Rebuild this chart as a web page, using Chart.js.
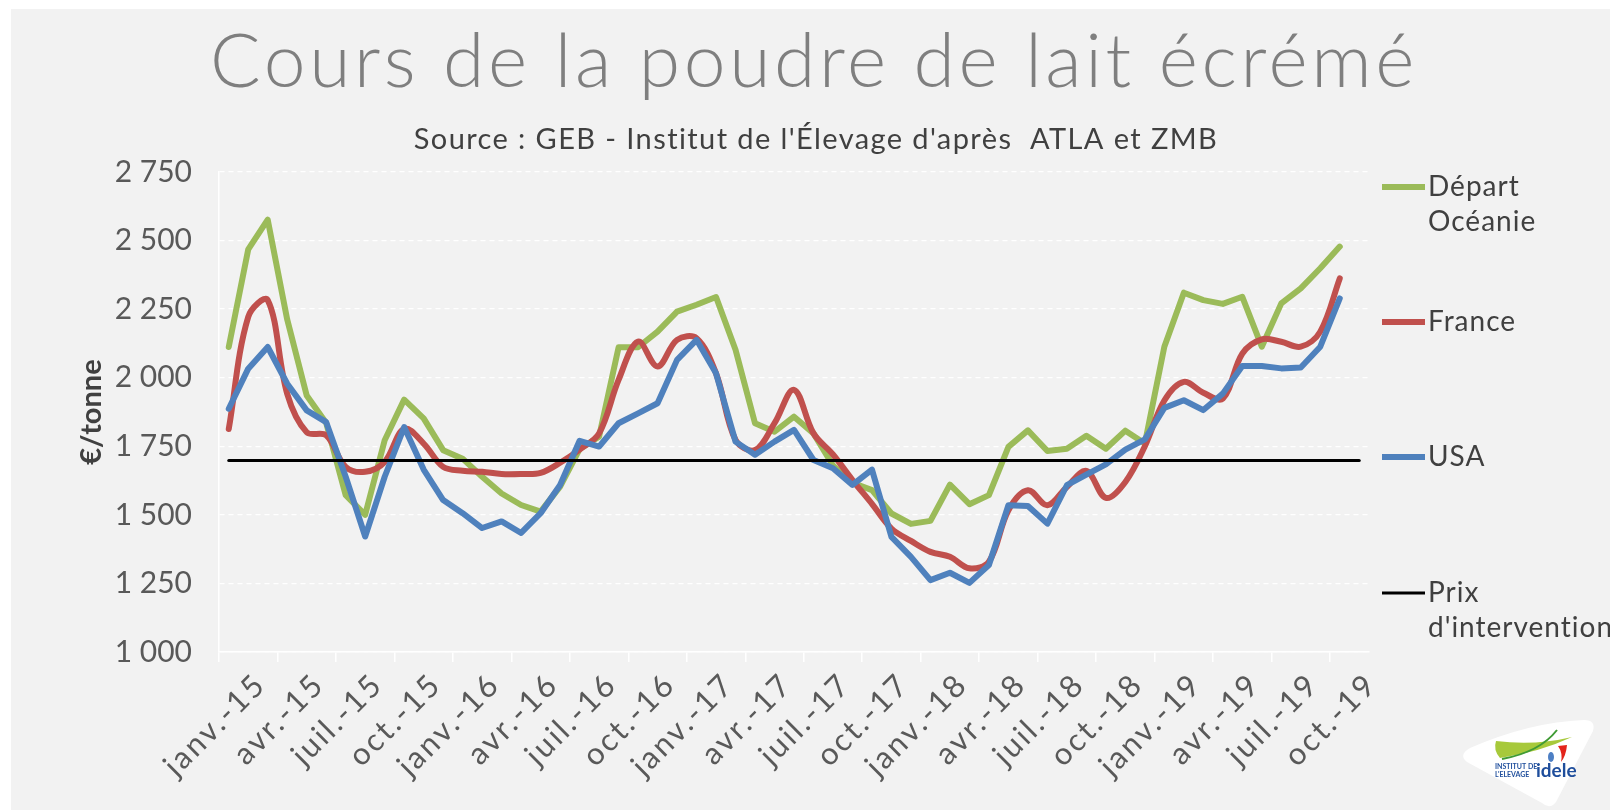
<!DOCTYPE html>
<html lang="fr">
<head>
<meta charset="utf-8">
<title>Cours de la poudre de lait écrémé</title>
<script src="https://cdn.jsdelivr.net/npm/chart.js"></script>
<style>
  html, body { margin: 0; padding: 0; background: #fff; }
  #wrap { width: 1610px; height: 810px; }
</style>
</head>
<body>
<div id="wrap"><canvas id="chart" width="1610" height="810"></canvas></div>
<script>
// Données (€/tonne), mensuelles de janv.-15 à nov.-19
const mois = [
  'janv.-15', 'févr.-15', 'mars-15', 'avr.-15', 'mai-15', 'juin-15', 'juil.-15', 'août-15', 'sept.-15', 'oct.-15', 'nov.-15', 'déc.-15',
  'janv.-16', 'févr.-16', 'mars-16', 'avr.-16', 'mai-16', 'juin-16', 'juil.-16', 'août-16', 'sept.-16', 'oct.-16', 'nov.-16', 'déc.-16',
  'janv.-17', 'févr.-17', 'mars-17', 'avr.-17', 'mai-17', 'juin-17', 'juil.-17', 'août-17', 'sept.-17', 'oct.-17', 'nov.-17', 'déc.-17',
  'janv.-18', 'févr.-18', 'mars-18', 'avr.-18', 'mai-18', 'juin-18', 'juil.-18', 'août-18', 'sept.-18', 'oct.-18', 'nov.-18', 'déc.-18',
  'janv.-19', 'févr.-19', 'mars-19', 'avr.-19', 'mai-19', 'juin-19', 'juil.-19', 'août-19', 'sept.-19', 'oct.-19', 'nov.-19'
];

const departOceanie = [
  2112, 2468, 2576, 2212, 1935, 1835, 1572, 1500, 1772, 1920, 1852, 1736,
  1705, 1639, 1578, 1536, 1512, 1603, 1740, 1785, 2111, 2111, 2168, 2241,
  2266, 2294, 2102, 1834, 1803, 1858, 1797, 1680, 1617, 1590, 1505, 1467,
  1478, 1610, 1539, 1572, 1748, 1808, 1733, 1741, 1788, 1741, 1807, 1760,
  2113, 2310, 2283, 2269, 2295, 2113, 2271, 2326, 2399, 2478, null
];

const france = [
  1813, 2222, 2283, 1941, 1801, 1790, 1675, 1657, 1693, 1814, 1760, 1675,
  1661, 1657, 1649, 1649, 1653, 1690, 1738, 1797, 1992, 2132, 2041, 2138,
  2144, 2016, 1773, 1736, 1834, 1956, 1797, 1720, 1627, 1540, 1450, 1405,
  1365, 1347, 1305, 1329, 1517, 1590, 1535, 1602, 1660, 1562, 1620, 1750,
  1917, 1985, 1945, 1924, 2088, 2140, 2131, 2113, 2168, 2362, null
];

const usa = [
  1887, 2033, 2112, 1978, 1881, 1838, 1639, 1421, 1639, 1820, 1665, 1554,
  1506, 1452, 1476, 1434, 1506, 1609, 1770, 1749, 1834, 1870, 1907, 2065,
  2138, 2016, 1767, 1719, 1767, 1810, 1700, 1670, 1609, 1665, 1420, 1347,
  1262, 1289, 1252, 1317, 1535, 1532, 1468, 1608, 1647, 1684, 1738, 1775,
  1890, 1918, 1882, 1942, 2043, 2043, 2034, 2037, 2113, 2289, null
];

const prixIntervention = [
  1698, 1698, 1698, 1698, 1698, 1698, 1698, 1698, 1698, 1698, 1698, 1698,
  1698, 1698, 1698, 1698, 1698, 1698, 1698, 1698, 1698, 1698, 1698, 1698,
  1698, 1698, 1698, 1698, 1698, 1698, 1698, 1698, 1698, 1698, 1698, 1698,
  1698, 1698, 1698, 1698, 1698, 1698, 1698, 1698, 1698, 1698, 1698, 1698,
  1698, 1698, 1698, 1698, 1698, 1698, 1698, 1698, 1698, 1698, 1698
];

const titre = 'Cours de la poudre de lait écrémé';
const source = "Source : GEB - Institut de l'Élevage d'après  ATLA et ZMB";
const axeY = '€/tonne';

const police = 'Lato, "Open Sans", sans-serif';

// fond gris, titres, légende et logo
const decor = {
  id: 'decor',
  beforeDraw(chart) {
    const c = chart.ctx;
    c.save();
    c.fillStyle = '#f2f2f2';
    c.fillRect(11, 9, 1599, 801);
    c.restore();
  },
  // les étiquettes de l'axe x (z: 1) sont dessinées après les courbes : on les espace un peu
  afterDatasetsDraw(chart) {
    chart.ctx.letterSpacing = '2.5px';
  },
  afterDraw(chart) {
    const c = chart.ctx;
    c.letterSpacing = '0px';
    c.save();
    c.textAlign = 'center';
    c.textBaseline = 'alphabetic';
    c.fillStyle = '#7f7f7f';
    c.font = '300 75px ' + police;
    c.letterSpacing = '3.6px';
    c.fillText(titre, 814, 87);
    c.fillStyle = '#404040';
    c.font = '29px ' + police;
    c.letterSpacing = '1.4px';
    c.fillText(source, 816, 149);

    // légende
    const entrees = [
      { ds: 0, lignes: ['Départ', 'Océanie'], y: 187 },
      { ds: 1, lignes: ['France'], y: 322 },
      { ds: 2, lignes: ['USA'], y: 457 },
      { ds: 3, lignes: ['Prix', "d'intervention"], y: 593 }
    ];
    c.textAlign = 'left';
    c.textBaseline = 'middle';
    c.font = '28px ' + police;
    c.letterSpacing = '1px';
    entrees.forEach(e => {
      const ds = chart.data.datasets[e.ds];
      c.strokeStyle = ds.borderColor;
      c.lineWidth = ds.borderWidth;
      c.lineCap = 'butt';
      c.beginPath();
      c.moveTo(1382, e.y);
      c.lineTo(1425, e.y);
      c.stroke();
      c.fillStyle = '#404040';
      e.lignes.forEach((t, k) => c.fillText(t, 1428, e.y + k * 35));
    });
    c.letterSpacing = '0px';

    // logo idele
    c.fillStyle = '#ffffff';
    c.beginPath();
    c.moveTo(1470, 748);
    c.quadraticCurveTo(1530, 722, 1584, 720);
    c.quadraticCurveTo(1596, 720, 1593, 731);
    c.lineTo(1556, 802);
    c.quadraticCurveTo(1550, 810, 1542, 803);
    c.lineTo(1467, 762);
    c.quadraticCurveTo(1458, 755, 1470, 748);
    c.fill();

    c.fillStyle = '#a7c93b';
    c.beginPath();
    c.moveTo(1496, 741);
    c.quadraticCurveTo(1535, 746, 1572, 737);
    c.quadraticCurveTo(1540, 752, 1500, 758);
    c.quadraticCurveTo(1493, 750, 1496, 741);
    c.fill();
    c.strokeStyle = '#3f9b35';
    c.lineWidth = 2;
    c.beginPath();
    c.moveTo(1502, 759);
    c.quadraticCurveTo(1540, 752, 1557, 730);
    c.stroke();
    c.fillStyle = '#4d7fc4';
    c.beginPath();
    c.ellipse(1551, 757, 3, 5, 0, 0, Math.PI * 2);
    c.fill();
    c.fillStyle = '#e3241b';
    c.beginPath();
    c.moveTo(1558, 746);
    c.lineTo(1567, 745);
    c.quadraticCurveTo(1566, 756, 1561, 762);
    c.quadraticCurveTo(1563, 753, 1558, 746);
    c.fill();

    c.fillStyle = '#1f4e9c';
    c.textAlign = 'left';
    c.textBaseline = 'alphabetic';
    c.font = 'bold 7px ' + police;
    c.fillText('INSTITUT DE', 1495, 769);
    c.fillText("L'ELEVAGE", 1495, 777);
    c.font = 'bold 19px ' + police;
    c.fillText('idele', 1536, 777);
    c.restore();
  }
};

function milliers(v) {
  return String(v).replace(/\B(?=(\d{3})+(?!\d))/g, ' ');
}

const ctx = document.getElementById('chart').getContext('2d');
new Chart(ctx, {
  type: 'line',
  data: {
    labels: mois,
    datasets: [
      {
        label: 'Départ Océanie',
        data: departOceanie,
        borderColor: '#9bbb59',
        borderWidth: 6,
        tension: 0,
        order: 4
      },
      {
        label: 'France',
        data: france,
        borderColor: '#c0504d',
        borderWidth: 6,
        tension: 0.35,
        order: 3
      },
      {
        label: 'USA',
        data: usa,
        borderColor: '#4f81bd',
        borderWidth: 6,
        tension: 0,
        order: 2
      },
      {
        label: "Prix d'intervention",
        data: prixIntervention,
        borderColor: '#000000',
        borderWidth: 3,
        tension: 0,
        order: 1
      }
    ]
  },
  options: {
    responsive: false,
    animation: false,
    events: [],
    layout: { padding: { left: 11, right: 241, top: 172, bottom: 0 } },
    elements: {
      point: { radius: 0 },
      line: { borderCapStyle: 'round', borderJoinStyle: 'round' }
    },
    plugins: {
      legend: { display: false },
      tooltip: { enabled: false }
    },
    scales: {
      x: {
        offset: true,
        grid: {
          offset: true,
          drawOnChartArea: false,
          drawTicks: true,
          tickLength: 10,
          lineWidth: 1.5,
          color: c => (c.index % 3 === 0 ? '#ffffff' : 'rgba(0,0,0,0)')
        },
        border: { color: '#ffffff', width: 1.5 },
        ticks: {
          z: 1,
          autoSkip: false,
          minRotation: 45,
          maxRotation: 45,
          labelOffset: 32,
          padding: 4,
          color: '#595959',
          font: { family: police, size: 31 },
          callback: function (v, i) {
            return i % 3 === 0 ? this.getLabelForValue(v) : '';
          }
        },
        afterFit: s => { s.height = 158; }
      },
      y: {
        min: 1000,
        max: 2750,
        ticks: {
          stepSize: 250,
          padding: 27,
          color: '#595959',
          font: { family: police, size: 30 },
          callback: v => milliers(v)
        },
        grid: { color: '#ffffff', lineWidth: 1.3, drawTicks: false },
        border: { color: '#ffffff', width: 1.5, dash: [5, 4] },
        title: {
          display: true,
          text: axeY,
          color: '#404040',
          font: { family: police, size: 29, weight: 'bold' },
          padding: { top: 63, bottom: 0 }
        },
        afterFit: s => { s.width = 208; }
      }
    }
  },
  plugins: [decor]
});
</script>
</body>
</html>
